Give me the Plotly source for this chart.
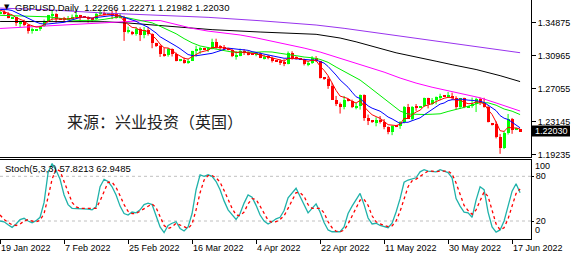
import plotly.graph_objects as go

# ---------------- data (bar index 0 = 19 Jan 2022, 6 bars per week incl. Sunday bars) -------------
opens = [1.3597,1.3615,1.3592,1.3548,1.3550,1.3480,1.3497,1.3466,1.3390,1.3405,
         1.3408,1.3448,1.3513,1.3575,1.3592,1.3531,1.3535,1.3530,1.3534,1.3559,
         1.3566,1.3558,1.3552,1.3535,1.3532,1.3594,1.3603,1.3590,1.3595,1.3593,
         1.3547,1.3557,1.3376,1.3380,1.3355,1.3413,1.3337,1.3397,1.3355,1.3250,
         1.3210,1.3111,1.3105,1.3180,1.3111,1.3039,1.3045,1.3006,1.3039,1.3147,
         1.3173,1.3180,1.3175,1.3180,1.3263,1.3200,1.3196,1.3181,1.3170,1.3092,
         1.3094,1.3154,1.3138,1.3115,1.3110,1.3114,1.3071,1.3078,1.3074,1.3038,
         1.3035,1.3020,1.3003,1.3130,1.3066,1.3062,1.3060,1.3000,1.3007,1.3069,
         1.3034,1.2835,1.2825,1.2734,1.2577,1.2524,1.2484,1.2575,1.2560,1.2487,
         1.2498,1.2627,1.2354,1.2334,1.2310,1.2330,1.2313,1.2251,1.2198,1.2265,
         1.2260,1.2314,1.2491,1.2349,1.2492,1.2489,1.2495,1.2592,1.2530,1.2567,
         1.2603,1.2625,1.2622,1.2625,1.2598,1.2488,1.2591,1.2490,1.2495,1.2530,
         1.2589,1.2535,1.2492,1.2300,1.2285,1.2132,1.2003,1.2180,1.2350,1.2222,
         1.22266]
highs = [1.3635,1.3640,1.3615,1.3553,1.3558,1.3512,1.3523,1.3467,1.3430,1.3410,
         1.3453,1.3525,1.3580,1.3628,1.3600,1.3535,1.3556,1.3567,1.3585,1.3643,
         1.3580,1.3562,1.3564,1.3542,1.3607,1.3644,1.3622,1.3600,1.3627,1.3645,
         1.3598,1.3569,1.3441,1.3390,1.3438,1.3433,1.3437,1.3439,1.3362,1.3250,
         1.3226,1.3187,1.3190,1.3183,1.3133,1.3050,1.3075,1.3059,1.3155,1.3214,
         1.3202,1.3190,1.3199,1.3298,1.3298,1.3222,1.3223,1.3190,1.3185,1.3152,
         1.3181,1.3175,1.3149,1.3120,1.3138,1.3139,1.3108,1.3105,1.3088,1.3045,
         1.3056,1.3055,1.3147,1.3149,1.3090,1.3070,1.3061,1.3033,1.3091,1.3091,
         1.3036,1.2840,1.2853,1.2775,1.2620,1.2542,1.2620,1.2575,1.2576,1.2537,
         1.2637,1.2638,1.2399,1.2335,1.2367,1.2382,1.2346,1.2259,1.2272,1.2270,
         1.2322,1.2500,1.2525,1.2500,1.2524,1.2500,1.2600,1.2598,1.2595,1.2613,
         1.2646,1.2630,1.2666,1.2659,1.2616,1.2596,1.2599,1.2500,1.2600,1.2600,
         1.2599,1.2598,1.2505,1.2300,1.2318,1.2169,1.2205,1.2406,1.2359,1.2245,
         1.22271]
lows = [1.3587,1.3583,1.3540,1.3543,1.3450,1.3435,1.3445,1.3358,1.3358,1.3400,
        1.3390,1.3438,1.3500,1.3510,1.3487,1.3525,1.3500,1.3515,1.3529,1.3540,
        1.3500,1.3548,1.3490,1.3497,1.3520,1.3580,1.3576,1.3585,1.3530,1.3536,
        1.3538,1.3272,1.3360,1.3340,1.3334,1.3270,1.3303,1.3335,1.3185,1.3200,
        1.3082,1.3085,1.3085,1.3087,1.3030,1.3030,1.3002,1.3000,1.3036,1.3087,
        1.3118,1.3170,1.3140,1.3172,1.3180,1.3153,1.3160,1.3160,1.3080,1.3050,
        1.3090,1.3105,1.3100,1.3105,1.3090,1.3068,1.3052,1.3054,1.3016,1.3025,
        1.2986,1.2973,1.2994,1.3049,1.3050,1.3050,1.2981,1.2972,1.2999,1.3022,
        1.2826,1.2810,1.2704,1.2573,1.2500,1.2411,1.2461,1.2555,1.2476,1.2461,
        1.2458,1.2325,1.2275,1.2300,1.2260,1.2293,1.2225,1.2166,1.2155,1.2250,
        1.2230,1.2294,1.2348,1.2326,1.2443,1.2480,1.2490,1.2472,1.2511,1.2520,
        1.2569,1.2615,1.2595,1.2572,1.2459,1.2467,1.2475,1.2480,1.2480,1.2429,
        1.2512,1.2482,1.2306,1.2270,1.2117,1.1934,1.1990,1.2162,1.2171,1.2215,
        1.21982]
closes = [1.3615,1.3592,1.3548,1.3550,1.3480,1.3497,1.3466,1.3390,1.3405,1.3408,
          1.3448,1.3513,1.3575,1.3592,1.3531,1.3530,1.3530,1.3534,1.3559,1.3566,
          1.3558,1.3552,1.3535,1.3532,1.3594,1.3603,1.3590,1.3595,1.3593,1.3547,
          1.3557,1.3376,1.3406,1.3355,1.3413,1.3337,1.3397,1.3355,1.3250,1.3210,
          1.3111,1.3105,1.3180,1.3111,1.3039,1.3045,1.3006,1.3039,1.3147,1.3173,
          1.3180,1.3175,1.3180,1.3263,1.3196,1.3196,1.3181,1.3170,1.3092,1.3094,
          1.3154,1.3138,1.3115,1.3110,1.3114,1.3071,1.3078,1.3074,1.3038,1.3035,
          1.3020,1.3003,1.3130,1.3066,1.3062,1.3060,1.3000,1.3007,1.3069,1.3034,
          1.2835,1.2825,1.2734,1.2577,1.2524,1.2484,1.2575,1.2560,1.2487,1.2498,
          1.2627,1.2354,1.2334,1.2310,1.2330,1.2313,1.2251,1.2198,1.2265,1.2260,
          1.2314,1.2491,1.2349,1.2492,1.2489,1.2495,1.2592,1.2530,1.2567,1.2603,
          1.2625,1.2622,1.2625,1.2598,1.2488,1.2591,1.2490,1.2495,1.2530,1.2589,
          1.2535,1.2492,1.2316,1.2285,1.2132,1.2003,1.2180,1.2350,1.2222,1.2240,
          1.22030]

ma_red = [1.3635,1.3621,1.3597,1.3581,1.3547,1.3530,1.3509,1.3469,1.3448,1.3435,
          1.3439,1.3464,1.3501,1.3531,1.3531,1.3531,1.3531,1.3532,1.3541,1.3549,
          1.3552,1.3552,1.3546,1.3541,1.3559,1.3574,1.3579,1.3584,1.3587,1.3574,
          1.3568,1.3504,1.3471,1.3432,1.3426,1.3396,1.3396,1.3382,1.3338,1.3295,
          1.3234,1.3191,1.3187,1.3162,1.3121,1.3096,1.3066,1.3057,1.3087,1.3116,
          1.3137,1.3150,1.3160,1.3194,1.3195,1.3195,1.3190,1.3183,1.3153,1.3133,
          1.3140,1.3139,1.3131,1.3124,1.3121,1.3104,1.3095,1.3088,1.3071,1.3059,
          1.3046,1.3032,1.3065,1.3065,1.3064,1.3063,1.3042,1.3030,1.3043,1.3040,
          1.2972,1.2923,1.2860,1.2766,1.2685,1.2618,1.2604,1.2589,1.2555,1.2536,
          1.2566,1.2495,1.2441,1.2397,1.2375,1.2354,1.2320,1.2279,1.2274,1.2269,
          1.2284,1.2353,1.2352,1.2399,1.2429,1.2451,1.2498,1.2509,1.2528,1.2553,
          1.2577,1.2592,1.2603,1.2601,1.2563,1.2572,1.2545,1.2528,1.2529,1.2549,
          1.2544,1.2527,1.2457,1.2400,1.2311,1.2208,1.2199,1.2249,1.2240,1.2240,
          1.2228]
ma_blue = [1.3645,1.3645,1.3641,1.3632,1.3609,1.3587,1.3566,1.3538,1.3514,1.3495,
           1.3478,1.3471,1.3473,1.3477,1.3483,1.3486,1.3492,1.3507,1.3522,1.3538,
           1.3549,1.3553,1.3549,1.3543,1.3549,1.3556,1.3562,1.3568,1.3572,1.3570,
           1.3570,1.3552,1.3539,1.3522,1.3504,1.3477,1.3458,1.3434,1.3399,1.3366,
           1.3321,1.3294,1.3271,1.3247,1.3210,1.3180,1.3141,1.3110,1.3099,1.3096,
           1.3103,1.3110,1.3110,1.3125,1.3140,1.3156,1.3173,1.3186,1.3181,1.3173,
           1.3170,1.3166,1.3160,1.3145,1.3136,1.3124,1.3114,1.3104,1.3099,1.3093,
           1.3079,1.3066,1.3067,1.3063,1.3058,1.3057,1.3049,1.3042,1.3045,1.3045,
           1.3027,1.3009,1.2969,1.2920,1.2867,1.2809,1.2766,1.2722,1.2664,1.2610,
           1.2589,1.2542,1.2502,1.2475,1.2456,1.2439,1.2406,1.2370,1.2348,1.2324,
           1.2293,1.2307,1.2308,1.2326,1.2342,1.2360,1.2395,1.2428,1.2458,1.2492,
           1.2523,1.2536,1.2564,1.2575,1.2575,1.2584,1.2574,1.2570,1.2567,1.2565,
           1.2556,1.2543,1.2512,1.2481,1.2446,1.2387,1.2356,1.2341,1.2310,1.2276,
           1.2242]
green_bars = list(range(0, 131, 2))
ma_green = [1.3575,1.3572,1.3570,1.3567,1.3565,1.3562,1.3557,1.3546,1.3529,1.3518,
            1.3514,1.3511,1.3516,1.3527,1.3547,1.3559,1.3544,1.3526,1.3510,1.3486,
            1.3445,1.3405,1.3357,1.3299,1.3249,1.3212,1.3190,1.3175,1.3157,1.3140,
            1.3136,1.3135,1.3138,1.3143,1.3140,1.3125,1.3114,1.3097,1.3081,1.3072,
            1.3053,1.3018,1.2962,1.2908,1.2854,1.2808,1.2736,1.2661,1.2586,1.2506,
            1.2441,1.2405,1.2399,1.2400,1.2403,1.2408,1.2436,1.2458,1.2484,1.2512,
            1.2540,1.2538,1.2510,1.2465,1.2439,1.2399]
magenta_bars = [0,8,16,24,32,36,40,44,48,52,56,60,64,68,72,76,80,84,88,92,96,100,
                104,108,112,116,120,124,128,130]
ma_magenta = [1.3419,1.3440,1.3466,1.3485,1.3505,1.3512,1.3513,1.3471,1.3421,1.3388,
              1.3365,1.3342,1.3308,1.3270,1.3229,1.3187,1.3140,1.3082,1.3017,1.2962,
              1.2902,1.2832,1.2772,1.2723,1.2682,1.2638,1.2598,1.2537,1.2469,1.2441]
black_bars = [0,13,26,32,40,47,53,65,79,85,89,99,105,109,113,119,125,130]
ma_black = [1.3502,1.3502,1.3499,1.3484,1.3455,1.3430,1.3405,1.3377,1.3350,1.3306,
            1.3261,1.3131,1.3075,1.3031,1.2990,1.2933,1.2860,1.2790]
purple_bars = [0,13,26,38,52,65,79,86,95,105,112,121,130]
ma_purple = [1.3661,1.3638,1.3602,1.3579,1.3551,1.3511,1.3460,1.3421,1.3362,1.3295,
             1.3250,1.3195,1.3132]

stoch_k = [20,19,15,11.5,16,22,23.6,20,17.7,20.4,25,45,85,97,88,76,55,42,37,37,
           37,37,36,35,39,66,76,73,66,55,40,30,28,32,31,35,42,44,42,27,
           12,4.5,14,17,19,10,6.6,12,30,62,82,80,82,80,73,62,47,35,28,22,
           30,44,55,52,41,28,20,16,19,23,25,34,51,58,64,53,42,31,37,43,
           32,18,8,5.6,5.6,5.6,12,30,40,48,57,42,24,16,17,14,12.5,11,17,32,
           50,72,75,76,78,86,89,87,86,86,89,87,85,78,50,40,32,31,25,48,
           66,62,32,12,5,8,20,40,60,70,57.82]
stoch_d = [28,22,18,15,14,16,20,22,20,19,21,30,52,76,90,87,73,58,45,39,
           37,37,37,36,37,47,60,72,72,65,54,42,33,30,30,33,36,40,43,38,
           27,14,10,12,17,15,12,10,16,35,58,75,81,81,78,72,61,48,37,28,
           27,32,43,50,49,40,30,21,18,19,22,27,37,48,58,58,53,42,37,37,
           37,31,19,11,6.4,5.6,7.7,16,27,39,48,49,41,27,19,16,14.5,12.5,13.5,20,
           33,51,66,74,76,80,84,87,87,86,87,87,87,83,71,56,41,34,29,35,
           46,59,53,35,16,8,11,23,40,57,62.95]

tick_bars = [0, 16, 32, 48, 64, 80, 96, 112, 128]
tick_labels = ["19 Jan 2022", "7 Feb 2022", "25 Feb 2022", "16 Mar 2022", "4 Apr 2022",
               "22 Apr 2022", "11 May 2022", "30 May 2022", "17 Jun 2022"]
price_ticks = [1.34875, 1.30965, 1.27055, 1.23145, 1.19235]
stoch_ticks = [80, 20]
header_text = "GBPUSD,Daily  1.22266 1.22271 1.21982 1.22030"
stoch_text = "Stoch(5,3,3) 57.8213 62.9485"
watermark = "来源：兴业投资（英国）"

# ---------------- layout geometry (pixels) ----------------
W, H = 577, 260
ML, MR, MT, MB = 0, 46, 0, 21
PW, PH = W - ML - MR, H - MT - MB          # 531 x 239
MAIN_BOTTOM = 157.0
STOCH_TOP = 159.5
Y_RANGE = [1.18963, 1.37565]
S_RANGE = [-4.16, 102.55]
X_RANGE = [-0.02, 132.73]

def py(px):  # pixel row -> paper y
    return 1 - px / PH

def pxx(px):  # pixel col -> paper x
    return px / PW

GREEN = "#00ff00"
RED = "#ff0000"
FONT = "Liberation Sans"

n = len(closes)
bars = list(range(n))
ppu = (MAIN_BOTTOM) / (Y_RANGE[1] - Y_RANGE[0])   # pixels per price unit

fig = go.Figure()

# wicks
for col, up in ((GREEN, True), (RED, False)):
    xs, ys = [], []
    for i in bars:
        if (closes[i] >= opens[i]) == up:
            xs += [i, i, None]
            ys += [lows[i], highs[i], None]
    fig.add_trace(go.Scatter(x=xs, y=ys, mode="lines", line=dict(color=col, width=1),
                             hoverinfo="skip", xaxis="x", yaxis="y"))

# bodies
min_h = 1.0 / ppu
base, hgt, cols = [], [], []
for o, c in zip(opens, closes):
    lo, hi = min(o, c), max(o, c)
    h = hi - lo
    if h < min_h:
        mid = (lo + hi) / 2
        lo, h = mid - min_h / 2, min_h
    base.append(lo)
    hgt.append(h)
    cols.append(GREEN if c >= o else RED)
fig.add_trace(go.Bar(x=bars, y=hgt, base=base, width=0.75, marker=dict(color=cols, line=dict(width=0)),
                     hoverinfo="skip", xaxis="x", yaxis="y"))

# moving averages
for xs, ys, col in ((purple_bars, ma_purple, "#9933ee"),
                    (black_bars, ma_black, "#000000"),
                    (magenta_bars, ma_magenta, "#ff00ff"),
                    (green_bars, ma_green, "#00ee00"),
                    (bars, ma_blue, "#0000ff"),
                    (bars, ma_red, "#ff0000")):
    fig.add_trace(go.Scatter(x=xs, y=ys, mode="lines", line=dict(color=col, width=1),
                             hoverinfo="skip", xaxis="x", yaxis="y"))

# stochastic
fig.add_trace(go.Scatter(x=bars, y=stoch_k, mode="lines", line=dict(color="#20b2aa", width=1.3),
                         hoverinfo="skip", xaxis="x2", yaxis="y2"))
fig.add_trace(go.Scatter(x=bars, y=stoch_d, mode="lines", line=dict(color="#ff0000", width=1.3, dash="dot"),
                         hoverinfo="skip", xaxis="x2", yaxis="y2"))

tickfont = dict(family=FONT, size=9, color="black")
fig.update_layout(
    width=W, height=H, margin=dict(l=ML, r=MR, t=MT, b=MB, pad=0),
    paper_bgcolor="white", plot_bgcolor="white", showlegend=False,
    barmode="overlay", bargap=0,
    xaxis=dict(domain=[0, 1], range=X_RANGE, anchor="y", showticklabels=False, ticks="",
               showgrid=False, zeroline=False, showline=True, linecolor="black", linewidth=1),
    yaxis=dict(domain=[py(MAIN_BOTTOM), 1], range=Y_RANGE, side="right", anchor="x",
               tickvals=price_ticks, ticktext=[f"{v:.5f}" for v in price_ticks],
               ticks="outside", ticklen=4, tickcolor="black", tickfont=tickfont,
               showgrid=False, zeroline=False, showline=True, linecolor="black", linewidth=1),
    xaxis2=dict(domain=[0, 1], range=X_RANGE, anchor="y2", tickvals=tick_bars, ticktext=tick_labels,
                ticklabelposition="outside right", ticks="outside", ticklen=4, tickcolor="black",
                tickfont=tickfont, showgrid=False, zeroline=False, showline=True, mirror=True,
                linecolor="black", linewidth=1),
    yaxis2=dict(domain=[0, py(STOCH_TOP)], range=S_RANGE, side="right", anchor="x2",
                tickvals=stoch_ticks, ticktext=[str(v) for v in stoch_ticks],
                ticks="outside", ticklen=2, tickcolor="black", tickfont=tickfont,
                showgrid=False, zeroline=False, showline=True, linecolor="black", linewidth=1),
)

# stochastic levels
for lv in (80, 20):
    fig.add_shape(type="line", xref="paper", yref="y2", x0=0, x1=1, y0=lv, y1=lv,
                  line=dict(color="#c0c0c0", width=1, dash="3px,3px"), layer="below")

# current price box
last = closes[-1]
fig.add_shape(type="rect", xref="paper", yref="y", x0=1, x1=pxx(570),
              y0=last - 5.5 / ppu, y1=last + 5.5 / ppu, fillcolor="black", line=dict(width=0))
fig.add_annotation(xref="paper", yref="y", x=pxx(533), y=last, text=f"{last:.5f}", showarrow=False,
                   xanchor="left", yanchor="middle", font=dict(family=FONT, size=9, color="white"))

# stochastic 100 / 0 labels
for val, lab in ((94.2, "100"), (7.9, "0")):
    fig.add_annotation(xref="paper", yref="y2", x=pxx(533), y=val, text=lab, showarrow=False,
                       xanchor="left", yanchor="middle", font=dict(family=FONT, size=9, color="black"))

# header texts
fig.add_annotation(xref="paper", yref="paper", x=pxx(2), y=py(7), text="▼", showarrow=False,
                   xanchor="left", yanchor="middle", font=dict(family="DejaVu Sans", size=7, color="black"))
fig.add_annotation(xref="paper", yref="paper", x=pxx(13), y=py(7), text=header_text, showarrow=False,
                   xanchor="left", yanchor="middle", font=dict(family=FONT, size=9.5, color="black"))
fig.add_annotation(xref="paper", yref="paper", x=pxx(3), y=py(168), text=stoch_text, showarrow=False,
                   xanchor="left", yanchor="middle", font=dict(family=FONT, size=9.5, color="black"))
fig.add_annotation(xref="paper", yref="paper", x=pxx(155), y=py(121), text=watermark, showarrow=False,
                   xanchor="center", yanchor="middle",
                   font=dict(family="Noto Sans CJK SC", size=16, color="#222222"))

fig.write_html("out.html")
